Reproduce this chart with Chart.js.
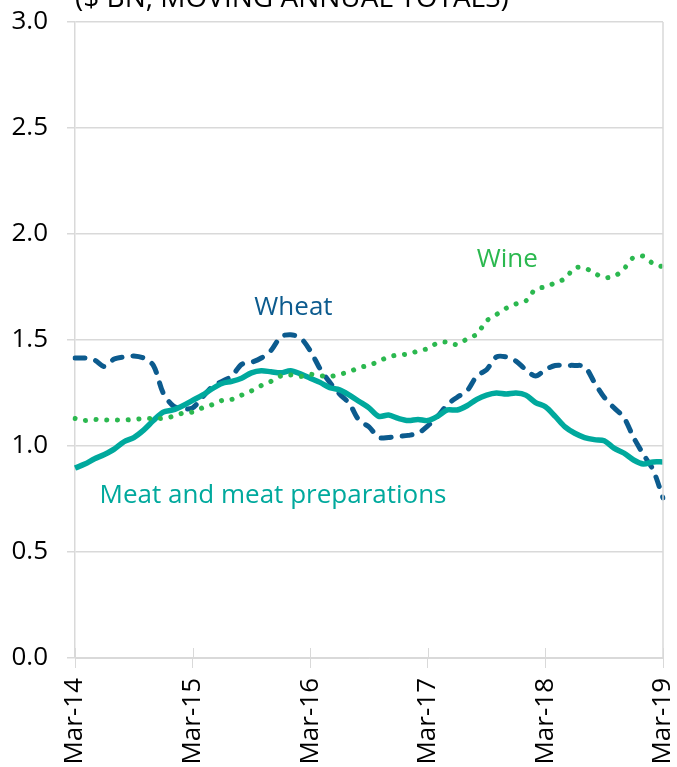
<!DOCTYPE html>
<html>
<head>
<meta charset="utf-8">
<script src="https://cdn.jsdelivr.net/npm/chart.js@4.4.1/dist/chart.umd.min.js"></script>
<style>
  html, body { margin: 0; padding: 0; background: #fff; overflow: hidden; }
  #wrap { position: relative; width: 677px; height: 767px; }
  canvas { display: block; }
</style>
</head>
<body>
<div id="wrap"><canvas id="chart" width="677" height="767"></canvas></div>
<script>
// ── 資料 ──────────────────────────────
const MONTHS = [];
const MONTH_NAMES = ["Jan","Feb","Mar","Apr","May","Jun","Jul","Aug","Sep","Oct","Nov","Dec"];
for (let y = 14; y <= 19; y++) {
  for (let m = 0; m < 12; m++) {
    if ((y === 14 && m < 2) || (y === 19 && m > 2)) continue;
    MONTHS.push(MONTH_NAMES[m] + "-" + y);
  }
}

const Y_TICKS = [0, 0.5, 1.0, 1.5, 2.0, 2.5, 3.0];

const WHEAT = [
  1.415, 1.415, 1.405, 1.375, 1.41, 1.42, 1.425, 1.415, 1.38, 1.25,
  1.19, 1.175, 1.18, 1.23, 1.28, 1.305, 1.33, 1.385, 1.395, 1.415,
  1.45, 1.515, 1.525, 1.51, 1.45, 1.365, 1.30, 1.245, 1.20, 1.12,
  1.09, 1.04, 1.04, 1.045, 1.05, 1.06, 1.095, 1.14, 1.195, 1.23,
  1.26, 1.33, 1.36, 1.42, 1.42, 1.40, 1.36, 1.33, 1.36, 1.38,
  1.38, 1.38, 1.375, 1.30, 1.23, 1.18, 1.135, 1.04, 0.96, 0.886,
  0.755,
];

const WINE = [
  1.13, 1.12, 1.125, 1.123, 1.123, 1.123, 1.125, 1.13, 1.13, 1.13,
  1.14, 1.155, 1.16, 1.18, 1.195, 1.215, 1.22, 1.24, 1.26, 1.285,
  1.305, 1.33, 1.335, 1.328, 1.338, 1.332, 1.328, 1.338, 1.35, 1.37,
  1.38, 1.40, 1.42, 1.43, 1.434, 1.448, 1.46, 1.486, 1.49, 1.478,
  1.505, 1.528, 1.59, 1.62, 1.65, 1.67, 1.684, 1.74, 1.75, 1.77,
  1.79, 1.84, 1.84, 1.815, 1.795, 1.80, 1.835, 1.89, 1.895, 1.86,
  1.845,
];

const MEAT = [
  0.896, 0.915, 0.94, 0.96, 0.985, 1.02, 1.04, 1.075, 1.12, 1.16,
  1.17, 1.19, 1.215, 1.24, 1.27, 1.295, 1.305, 1.32, 1.345, 1.355,
  1.35, 1.345, 1.355, 1.34, 1.32, 1.30, 1.275, 1.265, 1.24, 1.21,
  1.18, 1.14, 1.146, 1.13, 1.12, 1.125, 1.12, 1.14, 1.17, 1.17,
  1.19, 1.22, 1.24, 1.25, 1.245, 1.25, 1.24, 1.205, 1.185, 1.14,
  1.09, 1.06, 1.04, 1.03, 1.025, 0.99, 0.967, 0.934, 0.915, 0.925,
  0.925,
];

// ── 色彩 ──────────────────────────────
const COLORS = {
  wheat: "#0c5b8e",
  wine:  "#2bb84f",
  meat:  "#00a99d",
  grid:  "#d9d9d9",
  text:  "#000000",
};

const FONT = "'Open Sans', 'Noto Sans', sans-serif";

// 線上標籤（錨點以資料座標表示）
const SERIES_LABELS = [
  { text: "Wheat", index: 18.3, value: 1.655, color: COLORS.wheat },
  { text: "Wine", index: 41.0, value: 1.88, color: COLORS.wine },
  { text: "Meat and meat preparations", index: 2.5, value: 0.765, color: COLORS.meat },
];

const TITLE = "($ BN, MOVING ANNUAL TOTALS)";

// ── 外框、標題、標籤 ─────────────────────
const decorPlugin = {
  id: "decor",
  afterDraw(chart) {
    const { ctx, chartArea, scales } = chart;
    const x = scales.x, y = scales.y;
    ctx.save();
    // 右側框線
    ctx.strokeStyle = COLORS.grid;
    ctx.lineWidth = 1.5;
    ctx.beginPath();
    ctx.moveTo(chartArea.right, chartArea.top);
    ctx.lineTo(chartArea.right, chartArea.bottom);
    ctx.stroke();
    // 年度刻度向上延伸
    ctx.lineWidth = 1;
    MONTHS.forEach((m, i) => {
      if (i % 12 !== 0) return;
      const px = Math.round(x.getPixelForValue(i)) + 0.5;
      ctx.beginPath();
      ctx.moveTo(px, chartArea.bottom - 10);
      ctx.lineTo(px, chartArea.bottom);
      ctx.stroke();
    });
    // 標題（頂端被裁切）
    ctx.fillStyle = COLORS.text;
    ctx.font = "28px " + FONT;
    ctx.textAlign = "left";
    ctx.textBaseline = "alphabetic";
    ctx.fillText(TITLE, chartArea.left, 7);
    // 系列標籤
    ctx.font = "26px " + FONT;
    SERIES_LABELS.forEach(l => {
      ctx.fillStyle = l.color;
      ctx.textBaseline = "middle";
      ctx.fillText(l.text, x.getPixelForValue(l.index), y.getPixelForValue(l.value));
    });
    ctx.restore();
  },
};

const ctx = document.getElementById("chart").getContext("2d");
new Chart(ctx, {
  type: "line",
  data: {
    labels: MONTHS,
    datasets: [
      {
        label: "Wine",
        data: WINE,
        borderColor: COLORS.wine,
        borderWidth: 5,
        borderDash: [0.1, 10.6],
        borderCapStyle: "round",
        pointRadius: 0,
        tension: 0.3,
        fill: false,
      },
      {
        label: "Meat and meat preparations",
        data: MEAT,
        borderColor: COLORS.meat,
        borderWidth: 5.5,
        pointRadius: 0,
        tension: 0.3,
        fill: false,
      },
      {
        label: "Wheat",
        data: WHEAT,
        borderColor: COLORS.wheat,
        borderWidth: 5,
        borderDash: [10, 11],
        borderCapStyle: "round",
        pointRadius: 0,
        tension: 0.3,
        fill: false,
      },
    ],
  },
  options: {
    responsive: false,
    animation: false,
    layout: { padding: { top: 22, right: 14, left: 0, bottom: 0 } },
    plugins: {
      legend: { display: false },
      tooltip: { enabled: false },
    },
    scales: {
      x: {
        type: "category",
        offset: false,
        grid: {
          drawOnChartArea: false,
          color: COLORS.grid,
          tickLength: 10,
        },
        border: { display: true, color: COLORS.grid },
        ticks: {
          autoSkip: false,
          maxRotation: 90,
          minRotation: 90,
          padding: 10,
          color: COLORS.text,
          font: { family: FONT, size: 26 },
          callback: (v, i) => (i % 12 === 0 ? MONTHS[i] : null),
        },
        afterFit: s => {
          s.height = 109;
          s.paddingLeft = 0;
          s.paddingRight = 0;
        },
      },
      y: {
        min: 0,
        max: 3,
        afterBuildTicks: s => { s.ticks = Y_TICKS.map(v => ({ value: v })); },
        grid: { color: COLORS.grid, lineWidth: 1.5, tickLength: 8 },
        border: { display: true, color: COLORS.grid, width: 1.5 },
        ticks: {
          padding: 19,
          color: COLORS.text,
          font: { family: FONT, size: 26 },
          callback: v => v.toFixed(1),
        },
        afterFit: s => {
          s.width = 75;
          s.paddingTop = 0;
          s.paddingBottom = 0;
        },
      },
    },
  },
  plugins: [decorPlugin],
});
</script>
</body>
</html>
